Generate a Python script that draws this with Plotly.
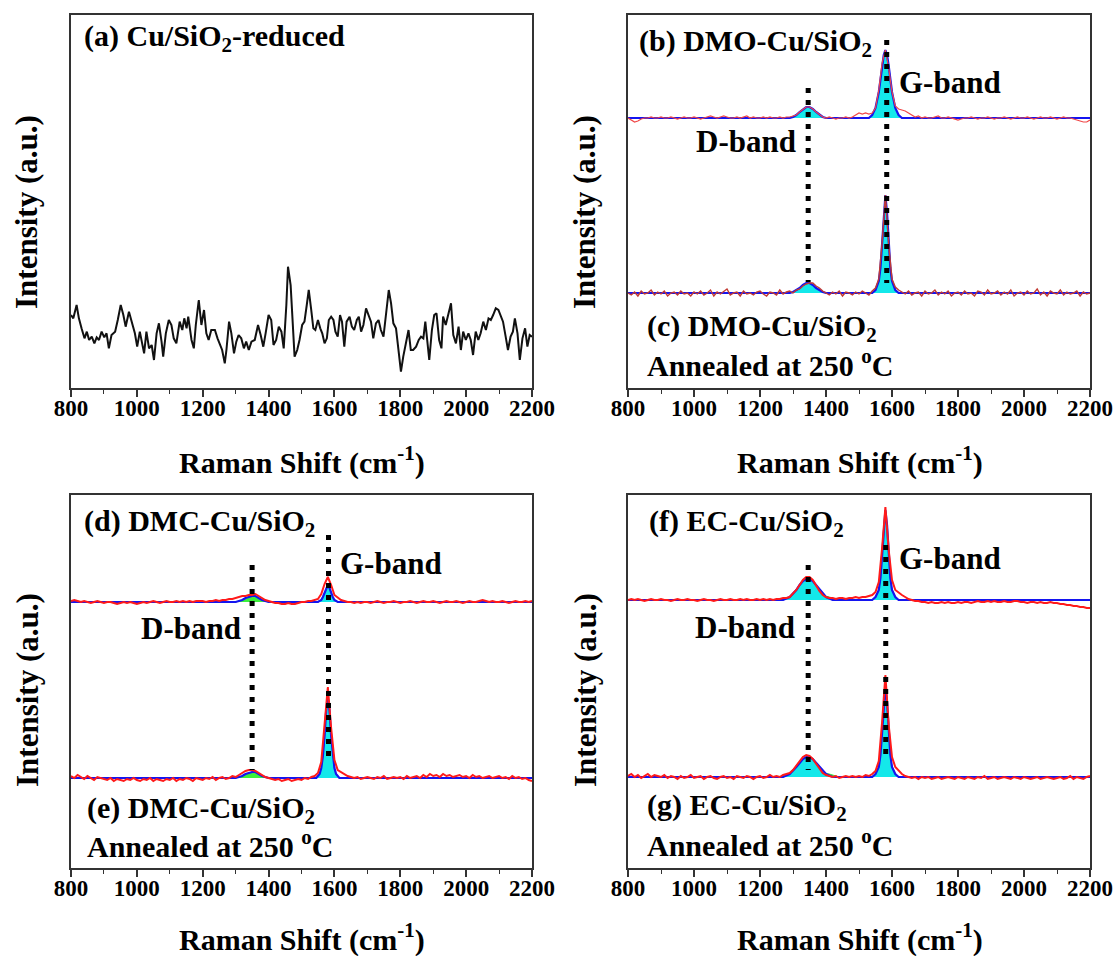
import plotly.graph_objects as go

W, H = 1116, 956
OFF = 0               # page margin is removed by the post script below
FONT = "Liberation Serif"

# ---------------- data ----------------
# (a) Cu/SiO2-reduced : Raman shift (cm-1) and intensity (a.u.)
a_shift = [800, 807, 817, 824, 832, 841, 848, 855, 863, 871, 878, 885, 893, 901, 908, 915, 923, 934, 942, 951,
           959, 966, 976, 984, 994, 1001, 1009, 1016, 1022, 1029, 1037, 1045, 1052, 1060, 1067, 1075, 1080, 1088,
           1097, 1105, 1112, 1120, 1130, 1138, 1144, 1151, 1156, 1166, 1173, 1179, 1188, 1196, 1204, 1211, 1218,
           1226, 1237, 1245, 1252, 1259, 1267, 1272, 1280, 1287, 1295, 1302, 1309, 1317, 1325, 1332, 1340, 1348,
           1358, 1368, 1376, 1384, 1391, 1400, 1408, 1415, 1423, 1431, 1439, 1446, 1454, 1459, 1467, 1474, 1479,
           1487, 1494, 1502, 1509, 1516, 1522, 1529, 1536, 1542, 1550, 1557, 1563, 1570, 1577, 1583, 1590, 1597,
           1603, 1610, 1617, 1623, 1630, 1637, 1646, 1653, 1660, 1668, 1674, 1681, 1688, 1696, 1703, 1711, 1718,
           1726, 1734, 1741, 1749, 1757, 1765, 1772, 1779, 1787, 1795, 1802, 1809, 1817, 1825, 1832, 1839, 1848,
           1856, 1863, 1870, 1876, 1883, 1888, 1896, 1903, 1910, 1918, 1925, 1930, 1938, 1946, 1954, 1961, 1969,
           1977, 1984, 1991, 1999, 2007, 2014, 2021, 2029, 2037, 2044, 2052, 2060, 2068, 2075, 2082, 2090, 2098,
           2106, 2112, 2120, 2127, 2135, 2142, 2148, 2156, 2163, 2171, 2179, 2186, 2193, 2200]
a_int = [205, 195, 235, 195, 165, 135, 155, 130, 140, 120, 138, 130, 155, 138, 150, 105, 145, 155, 190, 235,
         205, 170, 215, 185, 150, 110, 155, 120, 90, 155, 105, 115, 70, 150, 180, 125, 80, 150,
         190, 175, 135, 120, 185, 160, 195, 165, 200, 130, 105, 175, 250, 175, 220, 150, 130,
         160, 160, 135, 120, 100, 60, 100, 185, 150, 90, 125, 145, 135, 105, 125, 100, 125,
         130, 175, 145, 110, 150, 205, 190, 115, 130, 170, 155, 105, 235, 350, 295, 140, 80,
         100, 130, 175, 185, 235, 280, 225, 165, 160, 190, 165, 150, 120, 135, 190, 200, 190,
         155, 140, 205, 185, 110, 185, 200, 170, 160, 190, 200, 155, 175, 225, 205, 185, 135,
         180, 190, 160, 140, 220, 280, 240, 180, 165, 100, 35, 80, 125, 160, 100, 100, 110,
         130, 140, 135, 185, 110, 70, 160, 205, 210, 130, 105, 200, 175, 210, 240, 145, 120,
         170, 100, 155, 130, 150, 130, 85, 155, 130, 150, 185, 160, 195, 190, 205, 225, 220,
         200, 185, 140, 100, 140, 155, 195, 150, 70, 135, 165, 110, 145, 140]

# sampling grid of the stacked spectra (cm-1)
SHIFT = list(range(800, 2201, 10))

# raw spectra (intensity above own baseline, a.u.), one value per SHIFT point
b_raw = [0, -2, -4, -3, -1, 0, 0, 1, 0, 0,
         1, 0, 0, 1, 0, -1, 0, 1, 0, 0,
         1, 0, -1, 0, 1, 2, 1, 0, 1, 2,
         1, 0, 0, 1, 0, 1, 2, 0, 1, 0,
         0, 1, 0, 1, 0, 0, 1, 0, 1, 1,
         2, 3, 6, 9, 11, 11, 9, 6, 3, 1,
         0, 1, 0, -1, 0, 0, 1, 0, 1, 3,
         5, 4, 5, 4, 5, 10, 28, 55, 68, 50,
         26, 12, 9, 8, 7, 5, 3, 1, 2, 0,
         1, 0, 0, 1, 2, 0, 0, 1, 0, -1,
         -2, -1, 0, 0, 1, 0, -1, 0, 0, 1,
         0, -1, 0, 0, 1, 0, -1, 0, 1, 0,
         0, 1, 0, -1, 0, 1, 0, 0, 1, 0,
         -1, 0, 1, 0, 0, -1, -2, -3, -4, -4,
         -2]
c_raw = [0, -2, 1, -3, 2, -1, 0, 3, -2, 1,
         -1, 2, -3, 0, 1, -2, 2, -1, 0, -3,
         1, -1, 2, -2, 0, 3, -3, 1, -1, 2,
         4, -2, 0, 1, -3, 2, -1, 0, -2, 1,
         2, -1, -3, 1, 0, -2, 3, -1, 1, 2,
         0, 3, 4, 7, 9, 10, 10, 7, 5, 2,
         0, -2, 1, -1, 2, -3, 1, 0, -2, 1,
         -1, 2, 0, -2, 2, 5, 14, 50, 98, 48,
         14, 6, 3, 1, -1, 2, -2, 0, 1, -3,
         2, -1, 0, 3, -2, 1, -1, 2, -3, 0,
         1, -2, 2, -1, 0, -3, 2, 1, -2, 3,
         -1, 0, 2, -2, 1, -1, 3, -3, 0, 1,
         -2, 2, -1, 0, 4, -2, 1, -3, 2, 0,
         -1, 3, -2, 1, -1, 0, 2, -3, 1, -1,
         0]
d_raw = [1, 2, 1, 0, 1, 0, -1, 0, 1, 0,
         -1, 0, 0, -1, -2, -1, 0, -1, 0, -1,
         -2, -1, 0, -1, 0, 1, 0, -1, 0, 1,
         0, 0, 1, 0, 1, 0, 1, 0, 1, 1,
         1, 0, 1, 1, 2, 1, 2, 2, 3, 3,
         4, 5, 6, 6, 7, 7, 8, 6, 4, 2,
         1, 0, -1, -1, -2, -2, -1, -2, -2, -1,
         0, 0, 1, 1, 2, 3, 8, 18, 25, 17,
         7, 4, 2, 1, 0, 0, -1, 0, -1, 0,
         0, -1, 0, 1, 0, -1, 0, 0, 1, 0,
         -1, 0, 0, 1, 0, -1, 0, 1, 0, 0,
         1, 0, -1, 0, 1, 0, 0, 1, 0, -1,
         0, 1, 0, 0, 1, 2, 1, 0, 1, 0,
         0, 1, 0, -1, 0, 1, 0, 0, 1, 0,
         1]
e_raw = [2, 0, 3, 1, -1, 2, 0, -2, 1, 0,
         -1, -2, 0, -3, -1, -2, -3, -1, -2, 0,
         -2, -3, -1, -2, 0, -3, -1, -2, -3, -1,
         -2, 0, -3, -1, -2, 0, -1, -3, 0, -1,
         -2, 0, -1, 1, -2, 0, 1, -1, 0, 2,
         1, 3, 5, 7, 8, 8, 7, 5, 3, 1,
         0, -1, -2, -1, -3, -2, -1, -3, -2, -1,
         -2, 0, -1, 1, 2, 5, 16, 50, 91, 50,
         18, 8, 6, 4, 2, 1, 0, 1, -1, 0,
         1, 0, -1, 1, 0, 2, -1, 0, 1, 0,
         1, -1, 2, 0, 1, 2, 0, 3, 1, 4,
         2, 3, 1, 4, 2, 3, 1, 2, 3, 1,
         2, 0, 3, 1, 2, 0, 1, 2, 0, 1,
         2, 0, 1, -1, 2, 0, 1, -1, 0, -2,
         -3]
f_raw = [0, 1, 0, 1, 0, -1, 0, 1, 0, 0,
         1, 0, 0, -1, 0, 1, 0, 0, 1, 0,
         0, -1, 0, 1, 0, 0, -1, 0, 1, 0,
         0, 1, 0, 0, 1, 0, 1, 0, 0, 1,
         0, 1, 0, 1, 0, 1, 1, 2, 2, 3,
         6, 10, 15, 20, 23, 23, 20, 14, 9, 5,
         3, 2, 2, 1, 2, 2, 1, 2, 2, 3,
         2, 3, 3, 4, 5, 8, 18, 52, 93, 50,
         20, 10, 7, 5, 3, 1, 0, -1, -1, -2,
         -2, -3, -2, -3, -3, -2, -3, -2, -3, -3,
         -2, -3, -2, -2, -3, -2, -1, -2, -2, -1,
         -2, -1, -2, -2, -1, -2, -2, -1, -1, -2,
         -2, -3, -2, -2, -3, -2, -3, -3, -2, -3,
         -3, -4, -4, -5, -5, -6, -6, -7, -7, -8,
         -8]
g_raw = [1, 3, 0, 2, -1, 1, 3, 0, 2, 1,
         0, 2, -1, 1, 0, -2, 1, -1, 0, 2,
         -1, 0, 1, -2, 0, 1, -1, -2, 0, 1,
         -1, 0, -2, 1, 0, -1, 1, 0, -2, 0,
         1, -1, 0, 2, 0, 1, 0, 2, 3, 4,
         7, 11, 16, 20, 22, 21, 18, 13, 8, 4,
         2, 1, 0, 1, -1, 0, 1, 0, 1, 0,
         1, 0, 2, 1, 3, 6, 16, 55, 102, 52,
         20, 10, 6, 3, 1, 0, -1, 0, -2, 0,
         -1, 0, -2, -1, 0, -2, -1, 0, -1, -2,
         0, -1, -2, 0, -1, -2, 0, -1, 1, -2,
         -1, 0, -2, -1, 0, -1, -2, 0, -1, -2,
         0, -1, -2, -1, 0, -2, -1, 0, -1, -2,
         -1, 0, -2, -1, 1, -2, 0, -1, -2, 0,
         1]

# fitted D- and G-band components (shift, intensity above baseline)
b_D_shift = [1290, 1300, 1310, 1320, 1330, 1340, 1350, 1360, 1370, 1380, 1390, 1400]
b_D_int = [0, 1, 3, 6, 9, 11, 11, 9, 6, 3, 1, 0]
b_G_shift = [1530, 1540, 1550, 1560, 1565, 1570, 1575, 1580, 1585, 1590, 1595, 1600, 1610, 1620, 1630]
b_G_int = [0, 3, 10, 26, 38, 52, 63, 68, 63, 52, 38, 26, 10, 3, 0]

c_D_shift = [1290, 1300, 1310, 1320, 1330, 1340, 1350, 1360, 1370, 1380, 1390, 1400]
c_D_int = [0, 1, 3, 5, 8, 10, 10, 8, 5, 3, 1, 0]
c_G_shift = [1540, 1550, 1560, 1565, 1570, 1575, 1580, 1585, 1590, 1595, 1600, 1610, 1620]
c_G_int = [0, 3, 12, 25, 50, 80, 98, 80, 50, 25, 12, 3, 0]

d_D_shift = [1300, 1310, 1320, 1330, 1340, 1350, 1360, 1370, 1380, 1390, 1400]
d_D_int = [0, 1, 2, 4, 5, 6, 6, 4, 2, 1, 0]
d_G_shift = [1550, 1560, 1565, 1570, 1575, 1580, 1585, 1590, 1595, 1600, 1610]
d_G_int = [0, 2, 5, 9, 14, 17, 14, 9, 5, 2, 0]

e_D_shift = [1300, 1310, 1320, 1330, 1340, 1350, 1360, 1370, 1380, 1390, 1400]
e_D_int = [0, 1, 2, 4, 5, 6, 6, 4, 2, 1, 0]
e_G_shift = [1545, 1555, 1560, 1565, 1570, 1575, 1580, 1585, 1590, 1595, 1600, 1605, 1615]
e_G_int = [0, 4, 10, 22, 42, 68, 80, 68, 42, 22, 10, 4, 0]

f_Dw_shift = [1260, 1290, 1320, 1350, 1380, 1410, 1440]
f_Dw_int = [0, 3, 5, 6, 5, 3, 0]
f_D_shift = [1270, 1290, 1300, 1310, 1320, 1330, 1340, 1350, 1360, 1370, 1380, 1390, 1400, 1420]
f_D_int = [0, 3, 6, 10, 15, 19, 21, 21, 19, 15, 10, 6, 3, 0]
f_G_shift = [1540, 1550, 1560, 1565, 1570, 1575, 1580, 1585, 1590, 1595, 1600, 1610, 1620]
f_G_int = [0, 3, 10, 22, 45, 75, 90, 75, 45, 22, 10, 3, 0]

g_Dw_shift = [1260, 1290, 1320, 1350, 1380, 1410, 1440]
g_Dw_int = [0, 3, 5, 6, 5, 3, 0]
g_D_shift = [1270, 1290, 1300, 1310, 1320, 1330, 1340, 1350, 1360, 1370, 1380, 1390, 1400, 1420]
g_D_int = [0, 3, 6, 10, 14, 18, 20, 20, 18, 14, 10, 6, 3, 0]
g_G_shift = [1540, 1550, 1560, 1565, 1570, 1575, 1580, 1585, 1590, 1595, 1600, 1610, 1620]
g_G_int = [0, 3, 10, 22, 45, 75, 90, 75, 45, 22, 10, 3, 0]

# stacking baselines (a.u.)
b_base, c_base, d_base, e_base, f_base, g_base = 270, 95, 266, 90, 268, 91

# band guide lines: [shift, top, bottom]
b_Dline = [1346, 300, 106]
b_Gline = [1584, 348, 105]
d_Dline = [1350, 303, 98]
d_Gline = [1582, 333, 108]
f_Dline = [1346, 303, 98]
f_Gline = [1581, 323, 110]

X_TICKS = [800, 1000, 1200, 1400, 1600, 1800, 2000, 2200]

for arr in (b_raw, c_raw, d_raw, e_raw, f_raw, g_raw):
    assert len(arr) == len(SHIFT), len(arr)

# ---------------- styles ----------------
CYAN = "#14E8EA"
GREEN = "#3CF03C"
BLUE = "#1414F0"
RED = "#FF1A1A"

fig = go.Figure()


def add(tr, k):
    tr.update(xaxis="x" if k == 1 else f"x{k}", yaxis="y" if k == 1 else f"y{k}",
              showlegend=False, hoverinfo="skip")
    fig.add_trace(tr)


def comp(k, sx, si, base, fill, line):
    add(go.Scatter(x=sx, y=[base + v for v in si], mode="lines", fill="toself",
                   fillcolor=fill, line=dict(color=line, width=1)), k)


def spectrum(k, raw, base, D, G, raw_color, raw_width, dfill, dline, wide=None):
    if wide is not None:
        comp(k, wide[0], wide[1], base, GREEN, GREEN)
    comp(k, D[0], D[1], base, dfill, dline)
    comp(k, G[0], G[1], base, CYAN, "#20C020")
    env_x = [SHIFT[0]] + D[0] + G[0] + [SHIFT[-1]]
    env_y = [base] + [base + v for v in D[1]] + [base + v for v in G[1]] + [base]
    add(go.Scatter(x=env_x, y=env_y, mode="lines", line=dict(color=BLUE, width=2.2)), k)
    add(go.Scatter(x=SHIFT, y=[base + v for v in raw], mode="lines",
                   line=dict(color=raw_color, width=raw_width)), k)


def guide(k, ln):
    add(go.Scatter(x=[ln[0], ln[0]], y=[ln[1], ln[2]], mode="lines",
                   line=dict(color="black", width=5, dash="5px,7px")), k)


# (a)
add(go.Scatter(x=a_shift, y=a_int, mode="lines", line=dict(color="#111111", width=2)), 1)

# (b)/(c)
spectrum(2, c_raw, c_base, (c_D_shift, c_D_int), (c_G_shift, c_G_int), "#C23A32", 1.4, CYAN, "#9A40C8")
spectrum(2, b_raw, b_base, (b_D_shift, b_D_int), (b_G_shift, b_G_int), "#F04848", 1.2, CYAN, "#9A40C8")
guide(2, b_Dline)
guide(2, b_Gline)

# (d)/(e)
spectrum(3, e_raw, e_base, (e_D_shift, e_D_int), (e_G_shift, e_G_int), RED, 2, GREEN, GREEN)
spectrum(3, d_raw, d_base, (d_D_shift, d_D_int), (d_G_shift, d_G_int), RED, 2, GREEN, GREEN)
guide(3, d_Dline)
guide(3, d_Gline)

# (f)/(g)
spectrum(4, g_raw, g_base, (g_D_shift, g_D_int), (g_G_shift, g_G_int), RED, 2, CYAN, "#9A40C8",
         wide=(g_Dw_shift, g_Dw_int))
spectrum(4, f_raw, f_base, (f_D_shift, f_D_int), (f_G_shift, f_G_int), RED, 2, CYAN, "#9A40C8",
         wide=(f_Dw_shift, f_Dw_int))
guide(4, f_Dline)
guide(4, f_Gline)

# ---------------- layout ----------------
AX = "#333333"


def fx(px):
    return (px - OFF) / W


def fy(py):
    return 1 - (py - OFF) / H


col_dom = [[fx(71), fx(532)], [fx(628), fx(1090)]]
row_dom = [[fy(388), fy(15)], [fy(868), fy(495)]]


def xax(col, anchor):
    return dict(domain=col_dom[col], anchor=anchor, range=[800, 2200], tickmode="array",
                tickvals=X_TICKS, ticks="outside", ticklen=7, tickwidth=1.5, tickcolor=AX,
                showline=True, linecolor=AX, linewidth=1.5, mirror=True, showgrid=False,
                zeroline=False, automargin=False, ticklabelstandoff=-8,
                tickfont=dict(family=FONT, size=23, color="black", weight="bold"),
                minor=dict(dtick=100, tick0=800, ticks="outside", ticklen=4, tickcolor=AX,
                           tickwidth=1.2, showgrid=False))


def yax(row, anchor, rng):
    return dict(domain=row_dom[row], anchor=anchor, range=rng, showticklabels=False, ticks="",
                showline=True, linecolor=AX, linewidth=1.5, mirror=True, showgrid=False,
                zeroline=False, automargin=False)


fig.update_layout(
    width=W, height=H, margin=dict(l=0, r=0, t=0, b=0, autoexpand=False),
    paper_bgcolor="white", plot_bgcolor="white",
    xaxis=xax(0, "y"), yaxis=yax(0, "x", [-14, 1105]),
    xaxis2=xax(1, "y2"), yaxis2=yax(0, "x2", [0, 373]),
    xaxis3=xax(0, "y3"), yaxis3=yax(1, "x3", [0, 373]),
    xaxis4=xax(1, "y4"), yaxis4=yax(1, "x4", [0, 373]),
)

ann = []


def label(text, xpx, ypx, anchor="left", size=30, angle=0):
    ann.append(dict(text=text, x=fx(xpx), y=fy(ypx), xref="paper", yref="paper",
                    xanchor=anchor, yanchor="middle", showarrow=False, textangle=angle,
                    font=dict(family=FONT, size=size, color="black", weight="bold")))


label("(a) Cu/SiO<sub>2</sub>-reduced", 82, 38)
label("(b) DMO-Cu/SiO<sub>2</sub>", 637, 43)
label("G-band", 897, 83, size=31)
label("D-band", 798, 142, anchor="right", size=31)
label("(c) DMO-Cu/SiO<sub>2</sub>", 645, 328)
label("Annealed at 250 <sup>o</sup>C", 645, 363)

label("(d) DMC-Cu/SiO<sub>2</sub>", 82, 523)
label("G-band", 338, 563, size=31)
label("D-band", 243, 628, anchor="right", size=31)
label("(e) DMC-Cu/SiO<sub>2</sub>", 85, 810)
label("Annealed at 250 <sup>o</sup>C", 85, 844)

label("(f) EC-Cu/SiO<sub>2</sub>", 647, 523)
label("G-band", 897, 558, size=31)
label("D-band", 797, 627, anchor="right", size=31)
label("(g) EC-Cu/SiO<sub>2</sub>", 645, 807)
label("Annealed at 250 <sup>o</sup>C", 645, 843)

for cx in (302, 860):
    label("Raman Shift (cm<sup>-1</sup>)", cx, 461, anchor="center", size=30)
    label("Raman Shift (cm<sup>-1</sup>)", cx, 937, anchor="center", size=30)
for xx in (27, 585):
    label("Intensity (a.u.)", xx, 212, anchor="center", size=31, angle=-90)
    label("Intensity (a.u.)", xx, 690, anchor="center", size=31, angle=-90)

fig.update_layout(annotations=ann)
fig.write_html("out.html", config={"displayModeBar": False},
               post_script="document.body.style.margin='0px';document.body.style.overflow='hidden';")
